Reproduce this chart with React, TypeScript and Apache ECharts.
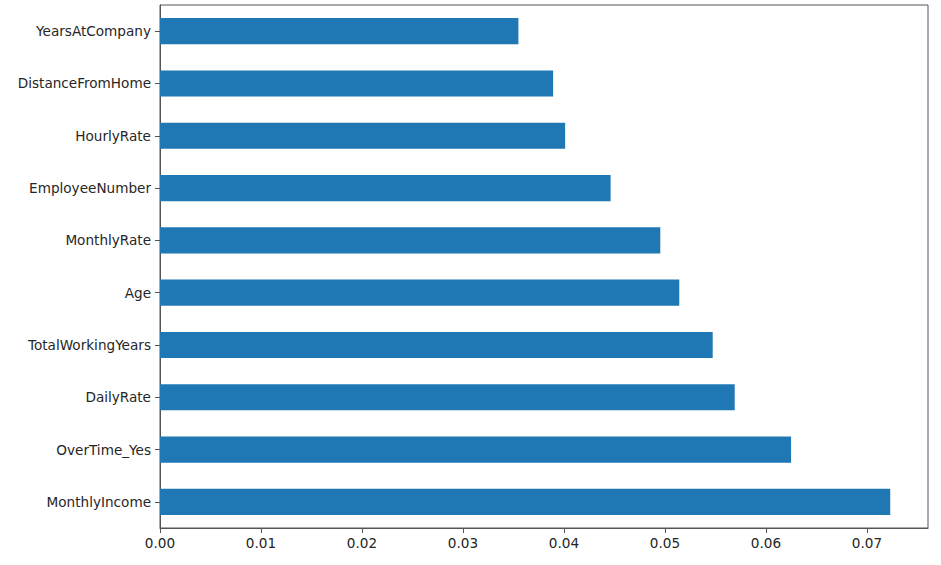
import React, { useEffect, useRef } from "react";
import * as echarts from "echarts";

// Categories from bottom to top (ECharts y category axis starts at the bottom)
const features = [
  "MonthlyIncome",
  "OverTime_Yes",
  "DailyRate",
  "TotalWorkingYears",
  "Age",
  "MonthlyRate",
  "EmployeeNumber",
  "HourlyRate",
  "DistanceFromHome",
  "YearsAtCompany",
];
const importances = [
  0.07231, 0.06249, 0.05691, 0.05473, 0.05142, 0.04954, 0.04462, 0.04012,
  0.03893, 0.03549,
];
const xTicks = [0, 0.01, 0.02, 0.03, 0.04, 0.05, 0.06, 0.07];
const xMax = 0.07605;

export default function App() {
  const ref = useRef<HTMLDivElement>(null);
  useEffect(() => {
    if (!ref.current) return;
    const chart = echarts.init(ref.current, null, { renderer: "svg" });
    const font = "DejaVu Sans";
    chart.setOption({
      animation: false,
      backgroundColor: "#ffffff",
      grid: {
        left: 160,
        right: 13,
        top: 5,
        bottom: 37,
        containLabel: false,
        outerBoundsMode: "none",
        show: true,
        borderColor: "#555",
        borderWidth: 1,
        backgroundColor: "transparent",
      },
      xAxis: {
        type: "value",
        min: 0,
        max: xMax,
        interval: 0.01,
        splitLine: { show: false },
        axisLine: { show: true, lineStyle: { color: "#555", width: 1 } },
        axisTick: {
          show: true,
          length: 5,
          lineStyle: { color: "#555" },
          customValues: xTicks,
        },
        axisLabel: {
          color: "#262626",
          fontFamily: font,
          fontSize: 13.6,
          margin: 8,
          customValues: xTicks,
          formatter: (v: number) => v.toFixed(2),
        },
      },
      yAxis: {
        type: "category",
        data: features,
        axisLine: { show: true, lineStyle: { color: "#555", width: 1 } },
        axisTick: {
          show: true,
          alignWithLabel: true,
          length: 5,
          lineStyle: { color: "#555" },
        },
        axisLabel: {
          color: "#262626",
          fontFamily: font,
          fontSize: 13.6,
          margin: 9,
        },
        splitLine: { show: false },
      },
      series: [
        {
          type: "bar",
          data: importances,
          barWidth: "50%",
          itemStyle: { color: "#1f77b4" },
        },
      ],
    });
    return () => chart.dispose();
  }, []);
  return (
    <div
      ref={ref}
      style={{ position: "absolute", left: 0, top: 0, width: 941, height: 565 }}
    />
  );
}
